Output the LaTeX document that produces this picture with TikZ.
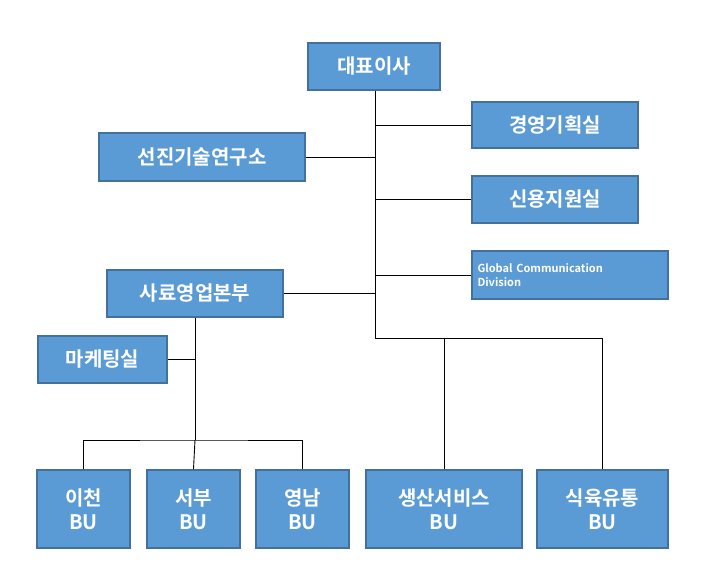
\documentclass[tikz,border=0pt]{standalone}
\usepackage{fontspec}
\setmainfont{Noto Sans CJK KR}[BoldFont={* Bold}]
\definecolor{boxfill}{HTML}{5B9BD5}
\definecolor{boxline}{HTML}{41719C}
\begin{document}
\begin{tikzpicture}[x=1pt,y=-1pt,
  box/.style={draw=boxline,line width=1.5pt,fill=boxfill,text=white,font=\bfseries\fontsize{20}{24}\selectfont,inner sep=0pt,align=center},
  conn/.style={draw=black,line width=0.9pt}]
\useasboundingbox (0,0) rectangle (705,566);
\newcommand\bx[6]{\node[box,minimum width=#4-#2,minimum height=#5-#3] (#1) at ({(#2+#4)/2},{(#3+#5)/2}) {#6};}
\bx{ceo}{308}{43}{440}{90}{대표이사}
\bx{plan}{472}{102}{638}{148}{경영기획실}
\bx{rnd}{99}{133}{305}{181}{선진기술연구소}
\bx{credit}{472}{176}{638}{223}{신용지원실}
\node[box,minimum width=196,minimum height=48,align=left,text width=185,font=\bfseries\fontsize{11}{14}\selectfont] (gcd) at (570,275) {Global Communication\\Division};
\bx{feed}{107}{270}{283}{317}{사료영업본부}
\bx{mkt}{38}{336}{167}{383}{마케팅실}
\bx{ic}{37}{470}{130}{548}{이천\\BU}
\bx{sb}{147}{470}{240}{548}{서부\\BU}
\bx{yn}{256}{470}{349}{548}{영남\\BU}
\bx{ps}{366}{470}{522}{548}{생산서비스\\BU}
\bx{mt}{537}{470}{668}{548}{식육유통\\BU}
\coordinate (t) at (375,338);
\draw[conn] (ceo.south -| t) -- (t);
\draw[conn] (t |- plan.west) -- (plan.west);
\draw[conn] (t |- rnd.east) -- (rnd.east);
\draw[conn] (t |- credit.west) -- (credit.west);
\draw[conn] (t |- gcd.west) -- (gcd.west);
\draw[conn] (t |- feed.east) -- (feed.east);
\draw[conn] (t) -| (mt.north);
\draw[conn] (t -| ps.north) -- (ps.north);
\coordinate (s) at (195,440);
\draw[conn] (feed.south -| s) -- (s);
\draw[conn] (s |- mkt.east) -- (mkt.east);
\draw[conn] (ic.north) |- (s) -| (yn.north);
\draw[conn] (s) -- (sb.north);
\end{tikzpicture}
\end{document}
